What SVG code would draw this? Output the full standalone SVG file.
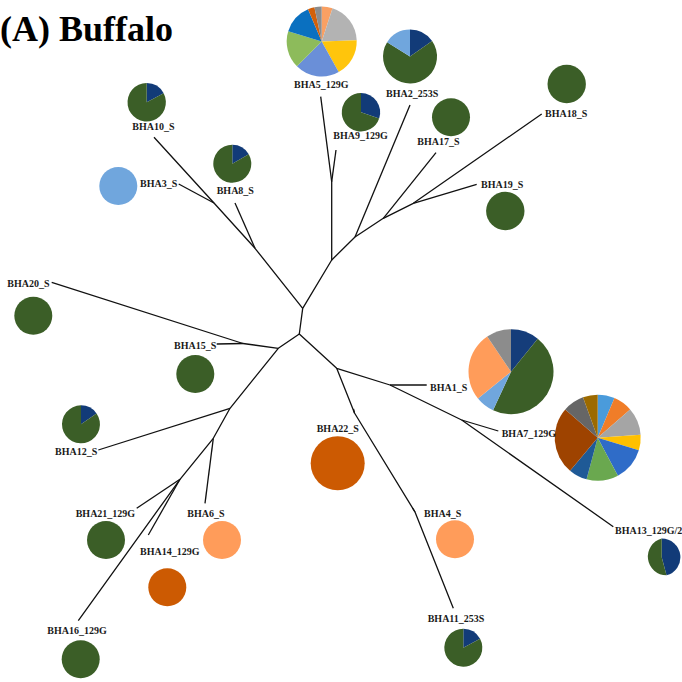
<svg xmlns="http://www.w3.org/2000/svg" width="682" height="682" viewBox="0 0 682 682">
<style>
.lbl{font-family:"Liberation Serif","Times New Roman",serif;font-weight:bold;font-size:10px;fill:#1a1a1a}
.title{font-family:"Liberation Serif","Times New Roman",serif;font-weight:bold;font-size:36px;fill:#000}
.e{stroke:#111;stroke-width:1.3;fill:none;stroke-linejoin:round}
.gr{fill:#3B5E27}.nv{fill:#123B78}.lb{fill:#70A6DD}.lo{fill:#FF9C5A}.do{fill:#CC5A02}
</style>
<rect width="682" height="682" fill="#fff"/>
<text class="title" x="0" y="41">(A) Buffalo</text>
<g id="connectors">
<polyline class="e" points="320.7,96.7 331.7,181.7 331.7,260 302.7,308.3 299.3,334 336.7,368.3 390,385 461.7,420 613.3,526.7"/>
<polyline class="e" points="336,150 331.7,181.7"/>
<polyline class="e" points="331.7,260 355,237 383.3,218.3 413.3,203.3 541.7,114"/>
<polyline class="e" points="355,237 410,105"/>
<polyline class="e" points="383.3,218.3 436,152.7"/>
<polyline class="e" points="413.3,203.3 476.7,184.3"/>
<polyline class="e" points="302.7,308.3 255,248.3 214,203 154,137.3"/>
<polyline class="e" points="255,248.3 235,203"/>
<polyline class="e" points="214,203 178.7,184"/>
<polyline class="e" points="299.3,334 278.3,348.3 243,343.5 51.7,282.3"/>
<polyline class="e" points="243,343.5 216.7,344"/>
<polyline class="e" points="278.3,348.3 230,408.3 213.3,438.3 180,479.3 78.3,620.7"/>
<polyline class="e" points="230,408.3 98.3,450"/>
<polyline class="e" points="213.3,438.3 205,503.3"/>
<polyline class="e" points="180,479.3 136.7,508.3"/>
<polyline class="e" points="180,479.3 148.3,535"/>
<polyline class="e" points="390,385 426.7,385"/>
<polyline class="e" points="461.7,420 498.3,431"/>
<polyline class="e" points="336.7,368.3 354.5,413 415,512 453.3,608.3"/>
<polyline class="e" points="354.5,413 353.5,409"/>
<polyline class="e" points="415,512 412.5,508"/>
</g>
<g id="BHA5_129G">
<path d="M321.7,41.5L321.7,6.5A35,35 0 0 1 332.52,8.21Z" fill="#F9A063"/>
<path d="M321.7,41.5L332.52,8.21A35,35 0 0 1 356.68,40.28Z" fill="#B3B3B3"/>
<path d="M321.7,41.5L356.68,40.28A35,35 0 0 1 338.67,72.11Z" fill="#FFC50C"/>
<path d="M321.7,41.5L338.67,72.11A35,35 0 0 1 296.95,66.25Z" fill="#6A8FD8"/>
<path d="M321.7,41.5L296.95,66.25A35,35 0 0 1 288.23,31.27Z" fill="#8DBB5B"/>
<path d="M321.7,41.5L288.23,31.27A35,35 0 0 1 308.03,9.28Z" fill="#0A70C0"/>
<path d="M321.7,41.5L308.03,9.28A35,35 0 0 1 314.42,7.27Z" fill="#D2600A"/>
<path d="M321.7,41.5L314.42,7.27A35,35 0 0 1 321.7,6.5Z" fill="#8C8C8C"/>
<text class="lbl" x="294" y="88">BHA5_129G</text>
</g>
<g id="BHA2_253S">
<path d="M410,56.5L410,29.5A27,27 0 0 1 432.12,41.01Z" class="nv"/>
<path d="M410,56.5L432.12,41.01A27,27 0 1 1 387.1,42.19Z" class="gr"/>
<path d="M410,56.5L387.1,42.19A27,27 0 0 1 410,29.5Z" class="lb"/>
<text class="lbl" x="386" y="96.7">BHA2_253S</text>
</g>
<g id="BHA9_129G">
<path d="M361,112.3L361,93.1A19.2,19.2 0 0 1 379.15,118.55Z" class="nv"/>
<path d="M361,112.3L379.15,118.55A19.2,19.2 0 1 1 361,93.1Z" class="gr"/>
<text class="lbl" x="333.3" y="139.3">BHA9_129G</text>
</g>
<g id="BHA17_S">
<circle cx="451" cy="117.3" r="19" class="gr"/>
<text class="lbl" x="417.3" y="145">BHA17_S</text>
</g>
<g id="BHA18_S">
<circle cx="566.7" cy="84" r="19.2" class="gr"/>
<text class="lbl" x="545" y="117.3">BHA18_S</text>
</g>
<g id="BHA19_S">
<circle cx="505.3" cy="211" r="19.2" class="gr"/>
<text class="lbl" x="481" y="188.3">BHA19_S</text>
</g>
<g id="BHA10_S">
<path d="M146.7,102.3L146.7,83.1A19.2,19.2 0 0 1 163.65,93.29Z" class="nv"/>
<path d="M146.7,102.3L163.65,93.29A19.2,19.2 0 1 1 146.7,83.1Z" class="gr"/>
<text class="lbl" x="132.3" y="130">BHA10_S</text>
</g>
<g id="BHA8_S">
<path d="M232.3,163.7L232.3,144.7A19,19 0 0 1 248.75,154.2Z" class="nv"/>
<path d="M232.3,163.7L248.75,154.2A19,19 0 1 1 232.3,144.7Z" class="gr"/>
<text class="lbl" x="216.7" y="194.3">BHA8_S</text>
</g>
<g id="BHA3_S">
<circle cx="118.3" cy="186" r="19" class="lb"/>
<text class="lbl" x="140" y="187.3">BHA3_S</text>
</g>
<g id="BHA20_S">
<circle cx="33.3" cy="315.7" r="19" class="gr"/>
<text class="lbl" x="7.3" y="286.7">BHA20_S</text>
</g>
<g id="BHA15_S">
<circle cx="195.3" cy="374" r="19" class="gr"/>
<text class="lbl" x="174" y="349.3">BHA15_S</text>
</g>
<g id="BHA12_S">
<path d="M81,424.3L81,405.3A19,19 0 0 1 96.56,413.4Z" class="nv"/>
<path d="M81,424.3L96.56,413.4A19,19 0 1 1 81,405.3Z" class="gr"/>
<text class="lbl" x="55" y="455">BHA12_S</text>
</g>
<g id="BHA21_129G">
<circle cx="106" cy="540" r="19" class="gr"/>
<text class="lbl" x="75.7" y="516.7">BHA21_129G</text>
</g>
<g id="BHA6_S">
<circle cx="222" cy="540" r="19" class="lo"/>
<text class="lbl" x="187.3" y="516.7">BHA6_S</text>
</g>
<g id="BHA14_129G">
<circle cx="167.3" cy="587.3" r="19" class="do"/>
<text class="lbl" x="140" y="555">BHA14_129G</text>
</g>
<g id="BHA16_129G">
<circle cx="80.7" cy="659.3" r="19" class="gr"/>
<text class="lbl" x="47.3" y="634">BHA16_129G</text>
</g>
<g id="BHA22_S">
<circle cx="337.7" cy="463.3" r="27" class="do"/>
<text class="lbl" x="316.7" y="431.7">BHA22_S</text>
</g>
<g id="BHA4_S">
<circle cx="455" cy="539.3" r="19" class="lo"/>
<text class="lbl" x="424" y="516.7">BHA4_S</text>
</g>
<g id="BHA11_253S">
<path d="M463.3,647.7L463.3,628.7A19,19 0 0 1 480.08,638.78Z" class="nv"/>
<path d="M463.3,647.7L480.08,638.78A19,19 0 1 1 463.3,628.7Z" class="gr"/>
<text class="lbl" x="427.7" y="621.7">BHA11_253S</text>
</g>
<g id="BHA13_129G">
<path d="M661.7,557.3L661.7,538.6A18.7,18.7 0 0 1 666.54,575.36Z" class="nv"/>
<path d="M661.7,557.3L666.54,575.36A18.7,18.7 0 0 1 661.7,538.6Z" class="gr"/>
<text class="lbl" x="615" y="534">BHA13_129G/2</text>
</g>
<g id="BHA1_S">
<path d="M511,371.7L511,329.2A42.5,42.5 0 0 1 537.75,338.67Z" fill="#153D7A"/>
<path d="M511,371.7L537.75,338.67A42.5,42.5 0 0 1 493.04,410.22Z" class="gr"/>
<path d="M511,371.7L493.04,410.22A42.5,42.5 0 0 1 477.97,398.45Z" class="lb"/>
<path d="M511,371.7L477.97,398.45A42.5,42.5 0 0 1 487.23,336.47Z" class="lo"/>
<path d="M511,371.7L487.23,336.47A42.5,42.5 0 0 1 511,329.2Z" fill="#8C8C8C"/>
<text class="lbl" x="430" y="390.7">BHA1_S</text>
</g>
<g id="BHA7_129G">
<path d="M597.7,437.7L597.7,394.7A43,43 0 0 1 614.5,398.12Z" fill="#4A9BDB"/>
<path d="M597.7,437.7L614.5,398.12A43,43 0 0 1 630.15,409.49Z" fill="#F07D28"/>
<path d="M597.7,437.7L630.15,409.49A43,43 0 0 1 640.6,434.7Z" fill="#A5A5A5"/>
<path d="M597.7,437.7L640.6,434.7A43,43 0 0 1 638.82,450.27Z" fill="#FFC000"/>
<path d="M597.7,437.7L638.82,450.27A43,43 0 0 1 617.89,475.66Z" fill="#2F6CC8"/>
<path d="M597.7,437.7L617.89,475.66A43,43 0 0 1 586.57,479.23Z" fill="#6AA84F"/>
<path d="M597.7,437.7L586.57,479.23A43,43 0 0 1 570.06,470.64Z" fill="#1F5A96"/>
<path d="M597.7,437.7L570.06,470.64A43,43 0 0 1 565.25,409.49Z" fill="#9E4300"/>
<path d="M597.7,437.7L565.25,409.49A43,43 0 0 1 582.99,397.29Z" fill="#666666"/>
<path d="M597.7,437.7L582.99,397.29A43,43 0 0 1 597.7,394.7Z" fill="#9C6A00"/>
<text class="lbl" x="501.7" y="436.7">BHA7_129G</text>
</g>
</svg>
